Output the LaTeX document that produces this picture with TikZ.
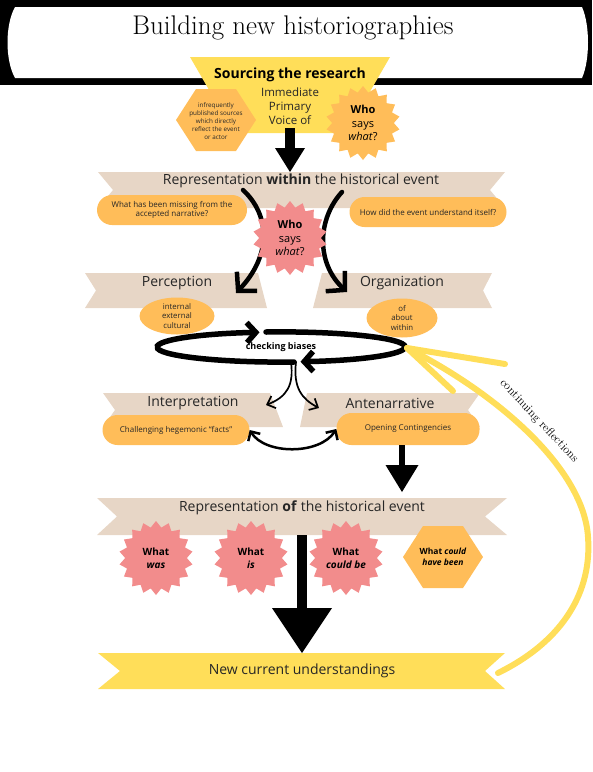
\documentclass[tikz,border=0pt]{standalone}
\usepackage{fontspec}
\setsansfont{Open Sans}
\usepackage{tikz}
\usetikzlibrary{arrows.meta,positioning,shapes.geometric}
\definecolor{hyellow}{HTML}{FFDE59}
\definecolor{horange}{HTML}{FFBD59}
\definecolor{hpink}{HTML}{F28C8C}
\definecolor{hbeige}{HTML}{E7D6C6}
\definecolor{hink}{HTML}{262626}
\newcommand{\fsz}[2]{\fontsize{#1}{#2}\selectfont}

\begin{document}
\begin{tikzpicture}[x=1pt,y=-1pt,font=\sffamily,
    pill/.style={rectangle,rounded corners=15pt,fill=horange,text=hink,
      font=\sffamily\fsz{8}{9.6},align=center,inner sep=0pt},
    blob/.style={ellipse,fill=horange,text=hink,font=\sffamily\fsz{7.8}{9.6},
      align=center,inner sep=0pt},
    burst/.style={star,star points=18,star point ratio=1.2,fill=#1,
      inner sep=0pt,minimum size=74pt,align=center,text=black},
    bandtxt/.style={text=hink,font=\sffamily\fsz{14}{16}},
    bigarrow/.style n args={3}{line width=#1,
      -{Triangle[width=#2,length=#3,line width=0pt]}},
    chev/.style n args={3}{line width=#1,line cap=round,
      -{Straight Barb[width=#2,length=#3]}}]
  \useasboundingbox (0,0) rectangle (593,772);

  % title banner
  \fill[black] (0,0) rectangle (592,85);
  \fill[white] (15,7) -- (582,7) .. controls (590,25) and (590,60) .. (582,78)
    -- (15,78) .. controls (5,60) and (5,25) .. (15,7) -- cycle;
  \node[font=\rmfamily\fsz{27}{30}] (title) at (293,28) {Building new historiographies};

  % ribbons: name/top/bottom/left top,notch,bottom/right top,notch,bottom/colour
  \foreach \n/\ya/\yb/\lt/\ln/\lb/\rt/\rn/\rb/\c in {%
    within/172/208/98/113/98/505/490/505/hbeige,
    perc/273/308/85/96/85/258/262.5/267/hbeige,
    org/273/308/322/317.5/313/492/483/492/hbeige,
    interp/393/427/103/115/103/270/276.5/283/hbeige,
    ante/393/427/307/303.5/300/480/468/480/hbeige,
    of/498/535/97/117/97/507/485/507/hbeige,
    new/653/689/98/120/98/505/485/505/hyellow}{
      \fill[\c] (\lt,\ya) -- (\rt,\ya) -- (\rn,{(\ya+\yb)/2}) -- (\rb,\yb)
        -- (\lb,\yb) -- (\ln,{(\ya+\yb)/2}) -- cycle;
      \coordinate (\n-n) at ({(\lt+\rt)/2},\ya);
      \coordinate (\n-s) at ({(\lb+\rb)/2},\yb);
  }

  % sourcing block
  \fill[hyellow] (190,57) -- (390,57) -- (346,133) -- (234,133) -- cycle;
  \foreach \cx/\cy in {216/120,443/557}
    \fill[horange] (\cx-40,\cy) -- ++(20,-31) -- ++(40,0) -- ++(20,31)
      -- ++(-20,31) -- ++(-40,0) -- cycle;
  \node[font=\sffamily\bfseries\fsz{14}{16},text=black] (sourcing) at (290,75)
    {Sourcing the research};
  \node[align=center,font=\sffamily\fsz{11.5}{14},text=hink] (voice) at (290,106)
    {Immediate\\Primary\\Voice of};
  \node[align=center,font=\sffamily\fsz{6.3}{7.9},text=hink] (infreq) at (216,121)
    {infrequently\\published sources\\which directly\\reflect the event\\or actor};
  \node[burst=horange,font=\sffamily\fsz{11}{13.5}] (whotop) at (363,123)
    {\textbf{Who}\\says\\\textit{what}?};
  \coordinate (drop1) at (290,128);
  \draw[bigarrow={10pt}{30pt}{24pt}] (drop1) -- (drop1 |- within-n);

  % representation within
  \node[bandtxt] (within) at (301,181) {Representation \textbf{within} the historical event};
  \node[pill,minimum width=150pt,minimum height=30pt] (missing) at (172,210)
    {What has been missing from the\\accepted narrative?};
  \node[pill,minimum width=157pt,minimum height=30pt] (selfview) at (428,212)
    {How did the event understand itself?};
  \coordinate (forkL) at (243,190);
  \coordinate (tipL) at (236,293);
  \coordinate (forkR) at (342,192);
  \coordinate (tipR) at (347,292);
  \draw[chev={4.5pt}{28pt}{13pt}] (forkL) .. controls (270,215) and (272,255) .. (tipL);
  \draw[chev={4.5pt}{28pt}{13pt}] (forkR) .. controls (318,218) and (315,262) .. (tipR);
  \node[burst=hpink,font=\sffamily\fsz{11}{13.5}] (whomid) at (290,238)
    {\textbf{Who}\\says\\\textit{what}?};

  % perception / organization
  \node[bandtxt] (perception) at (177,283) {Perception};
  \node[bandtxt] (organization) at (402,283) {Organization};
  \node[blob,minimum width=75pt,minimum height=37pt] (inner) at (177,316)
    {internal\\external\\cultural};
  \node[blob,minimum width=71pt,minimum height=39pt] (ofabout) at (402,318)
    {of\\about\\within};

  % checking loop
  \node[font=\sffamily\bfseries\fsz{9}{10},text=black] (checking) at (281,347)
    {checking biases};
  \draw[chev={5.5pt}{20pt}{9pt}] (checking.center) ++(13,15)
    arc[start angle=84,end angle=260,x radius=124,y radius=15];
  \draw[chev={5.5pt}{20pt}{9pt}] (checking.center) ++(-15,-15)
    arc[start angle=263,end angle=441,x radius=124,y radius=15];
  \coordinate (splitL) at (291,362);
  \coordinate (splitR) at (296,362);
  \coordinate (tipIL) at (266,405);
  \coordinate (tipAR) at (319,408);
  \draw[chev={1.7pt}{13pt}{7pt}] (splitL) .. controls (294,385) and (287,397) .. (tipIL);
  \draw[chev={1.7pt}{13pt}{7pt}] (splitR) .. controls (293,388) and (302,399) .. (tipAR);

  % interpretation / antenarrative
  \node[bandtxt] (interpretation) at (193,403) {Interpretation};
  \node[bandtxt] (antenarrative) at (390,403) {Antenarrative};
  \node[pill,minimum width=147pt,minimum height=30pt] (facts) at (176,430)
    {Challenging hegemonic “facts”};
  \node[pill,minimum width=143pt,minimum height=32pt] (opening) at (408,429)
    {Opening Contingencies};
  \draw[line width=2.5pt,{Straight Barb[width=14pt,length=7pt]}-{Straight Barb[width=14pt,length=7pt]}]
    (facts.east) .. controls (265,455) and (320,455) .. (opening.west);
  \coordinate (drop2) at (402,445);
  \draw[bigarrow={6pt}{33pt}{27pt},shorten >=6pt] (drop2) -- (drop2 |- of-n);

  % representation of
  \node[bandtxt] (ofevent) at (302,508) {Representation \textbf{of} the historical event};
  \foreach \nm/\cx/\lab in {was/156/was, is/251/is, couldbe/346/could be}
    \node[burst=hpink,font=\sffamily\bfseries\fsz{10}{13}] (\nm) at (\cx,558)
      {What\\\textit{\lab}};
  \node[align=center,font=\sffamily\bfseries\fsz{8.5}{11.5},text=black] (couldhave)
    at (443,557) {What \textit{could}\\\textit{have been}};
  \draw[bigarrow={10pt}{60pt}{45pt}] (of-s) -- (of-s |- new-n);

  % new understandings
  \node[bandtxt] (newund) at (302,671) {New current understandings};

  % continuing reflections
  \coordinate (echo) at (498,673);
  \coordinate (loopR) at (407,348);
  \draw[hyellow,line width=6pt,line cap=round] (echo)
    .. controls (565,640) and (592,590) .. (588,537)
    .. controls (584,470) and (500,395) .. (loopR);
  \draw[hyellow,line width=6pt,line cap=round] (loopR) -- ++(98,16)
    (loopR) -- ++(46,43);
  \node[rotate=-47,font=\rmfamily\fsz{12}{14}] (reflect) at (539,421)
    {continuing reflections};
\end{tikzpicture}
\end{document}
